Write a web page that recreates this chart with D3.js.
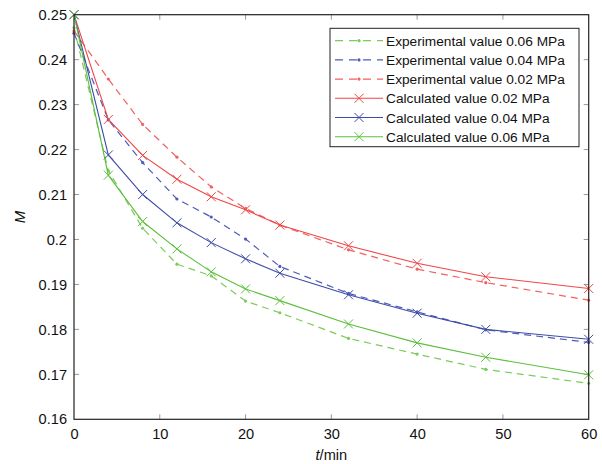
<!DOCTYPE html>
<html>
<head>
<meta charset="utf-8">
<script src="https://cdn.jsdelivr.net/npm/d3@7"></script>
<style>
  html, body { margin: 0; padding: 0; background: #fff; }
  svg { display: block; font-family: "Liberation Sans", Arial, Helvetica, sans-serif; }
</style>
</head>
<body>
<svg id="chart" width="602" height="464"></svg>
<script>
// Drying time (min)
const times = [0, 4, 8, 12, 16, 20, 24, 32, 40, 48, 60];

// Experimental moisture ratio M
const exp002 = [0.2464, 0.2357, 0.2256, 0.2183, 0.2117, 0.2069, 0.2032, 0.1977, 0.1934, 0.1904, 0.1865];
const exp004 = [0.2459, 0.2266, 0.2171, 0.2090, 0.2050, 0.2001, 0.1940, 0.1880, 0.1839, 0.1799, 0.1771];
const exp006 = [0.2471, 0.2153, 0.2025, 0.1945, 0.1919, 0.1863, 0.1837, 0.1780, 0.1745, 0.1711, 0.1680];

// Calculated (model) moisture ratio M
const calc002 = [0.2500, 0.2267, 0.2187, 0.2134, 0.2095, 0.2066, 0.2032, 0.1986, 0.1947, 0.1917, 0.1891];
const calc004 = [0.2500, 0.2188, 0.2100, 0.2037, 0.1993, 0.1957, 0.1925, 0.1877, 0.1836, 0.1800, 0.1778];
const calc006 = [0.2500, 0.2143, 0.2040, 0.1979, 0.1928, 0.1890, 0.1864, 0.1812, 0.1770, 0.1738, 0.1699];

const xTicks = [0, 10, 20, 30, 40, 50, 60];
const yTicks = [0.16, 0.17, 0.18, 0.19, 0.2, 0.21, 0.22, 0.23, 0.24, 0.25];

const seriesLabels = [
  "Experimental value 0.06 MPa",
  "Experimental value 0.04 MPa",
  "Experimental value 0.02 MPa",
  "Calculated value 0.02 MPa",
  "Calculated value 0.04 MPa",
  "Calculated value 0.06 MPa"
];

const RED = "#f04646", BLUE = "#3e4ca8", GREEN = "#5cbf3c";
const RED_L = "#f26060", BLUE_L = "#4c5cb8", GREEN_L = "#7ccb5c";

const series = [
  { name: seriesLabels[0], values: exp006, color: GREEN_L, kind: "exp" },
  { name: seriesLabels[1], values: exp004, color: BLUE_L, kind: "exp" },
  { name: seriesLabels[2], values: exp002, color: RED_L, kind: "exp" },
  { name: seriesLabels[3], values: calc002, color: RED, kind: "calc" },
  { name: seriesLabels[4], values: calc004, color: BLUE, kind: "calc" },
  { name: seriesLabels[5], values: calc006, color: GREEN, kind: "calc" }
];

const svg = d3.select("#chart");
const plotL = 74, plotR = 588.7, plotT = 14.7, plotB = 419.3;

const x = d3.scaleLinear().domain([0, 60]).range([plotL, plotR]);
const y = d3.scaleLinear().domain([0.16, 0.25]).range([plotB, plotT]);

// Axes with inward ticks on all four sides
const tickLen = 5;
const axisColor = "#222";

const gx = svg.append("g").attr("transform", `translate(0,${plotB})`)
  .call(d3.axisBottom(x).tickValues(xTicks).tickSize(0).tickPadding(9).tickFormat(d3.format("d")));
const gy = svg.append("g").attr("transform", `translate(${plotL},0)`)
  .call(d3.axisLeft(y).tickValues(yTicks).tickSize(0).tickPadding(7).tickFormat(d => String(+d.toFixed(2))));
[gx, gy].forEach(g => {
  g.select(".domain").remove();
  g.selectAll("text").attr("font-size", 14.6).attr("fill", "#111")
    .attr("font-family", "'Liberation Sans', Arial, sans-serif");
});

const ticks = svg.append("g").attr("stroke", "#999").attr("stroke-width", 1);
xTicks.slice(1, -1).forEach(t => {
  ticks.append("line").attr("x1", x(t)).attr("x2", x(t)).attr("y1", plotB).attr("y2", plotB - tickLen);
  ticks.append("line").attr("x1", x(t)).attr("x2", x(t)).attr("y1", plotT).attr("y2", plotT + tickLen);
});
yTicks.slice(1, -1).forEach(t => {
  ticks.append("line").attr("x1", plotL).attr("x2", plotL + tickLen).attr("y1", y(t)).attr("y2", y(t));
  ticks.append("line").attr("x1", plotR).attr("x2", plotR - tickLen).attr("y1", y(t)).attr("y2", y(t));
});

// Series
const line = d3.line().x((d, i) => x(times[i])).y(d => y(d));
const plot = svg.append("g");

function xMark(g, cx, cy, s, color) {
  g.append("path")
    .attr("d", `M${cx - s},${cy - s}L${cx + s},${cy + s}M${cx - s},${cy + s}L${cx + s},${cy - s}`)
    .attr("stroke", color).attr("stroke-width", 1).attr("fill", "none");
}

series.forEach(s => {
  const g = plot.append("g");
  g.append("path").datum(s.values)
    .attr("d", line)
    .attr("fill", "none")
    .attr("stroke", s.color)
    .attr("stroke-width", s.kind === "exp" ? 1.2 : 1.1)
    .attr("stroke-dasharray", s.kind === "exp" ? "7,5" : null);
  s.values.forEach((v, i) => {
    if (s.kind === "exp") {
      g.append("circle").attr("cx", x(times[i])).attr("cy", y(v)).attr("r", 1.6).attr("fill", s.color);
    } else {
      xMark(g, x(times[i]), y(v), 4.5, s.color);
    }
  });
});

// Frame
svg.append("rect")
  .attr("x", plotL).attr("y", plotT)
  .attr("width", plotR - plotL).attr("height", plotB - plotT)
  .attr("fill", "none").attr("stroke", axisColor).attr("stroke-width", 1.2);

// Axis titles
svg.append("text")
  .attr("x", (plotL + plotR) / 2).attr("y", 460)
  .attr("text-anchor", "middle").attr("font-size", 14.6).attr("fill", "#111")
  .html('<tspan font-style="italic">t</tspan>/min');
svg.append("text")
  .attr("transform", `translate(25,${(plotT + plotB) / 2}) rotate(-90)`)
  .attr("text-anchor", "middle").attr("font-size", 15).attr("font-style", "italic").attr("fill", "#111")
  .text("M");

// Legend
const lgX = 330, lgY = 28.3, lgW = 249, lgH = 118.4;
const legend = svg.append("g");
legend.append("rect")
  .attr("x", lgX).attr("y", lgY).attr("width", lgW).attr("height", lgH)
  .attr("fill", "#fff").attr("stroke", "#222").attr("stroke-width", 1);

series.forEach((s, i) => {
  const ry = 40.7 + i * 19.2;
  const row = legend.append("g");
  row.append("line")
    .attr("x1", 335).attr("x2", 383).attr("y1", ry).attr("y2", ry)
    .attr("stroke", s.color).attr("stroke-width", s.kind === "exp" ? 1.2 : 1.1)
    .attr("stroke-dasharray", s.kind === "exp" ? "8,6" : null);
  if (s.kind === "exp") {
    row.append("circle").attr("cx", 359).attr("cy", ry).attr("r", 1.6).attr("fill", s.color);
  } else {
    xMark(row, 359, ry, 4.5, s.color);
  }
  row.append("text")
    .attr("x", 386).attr("y", ry + 5)
    .attr("font-size", 13.7).attr("fill", "#111")
    .text(s.name);
});
</script>
</body>
</html>
